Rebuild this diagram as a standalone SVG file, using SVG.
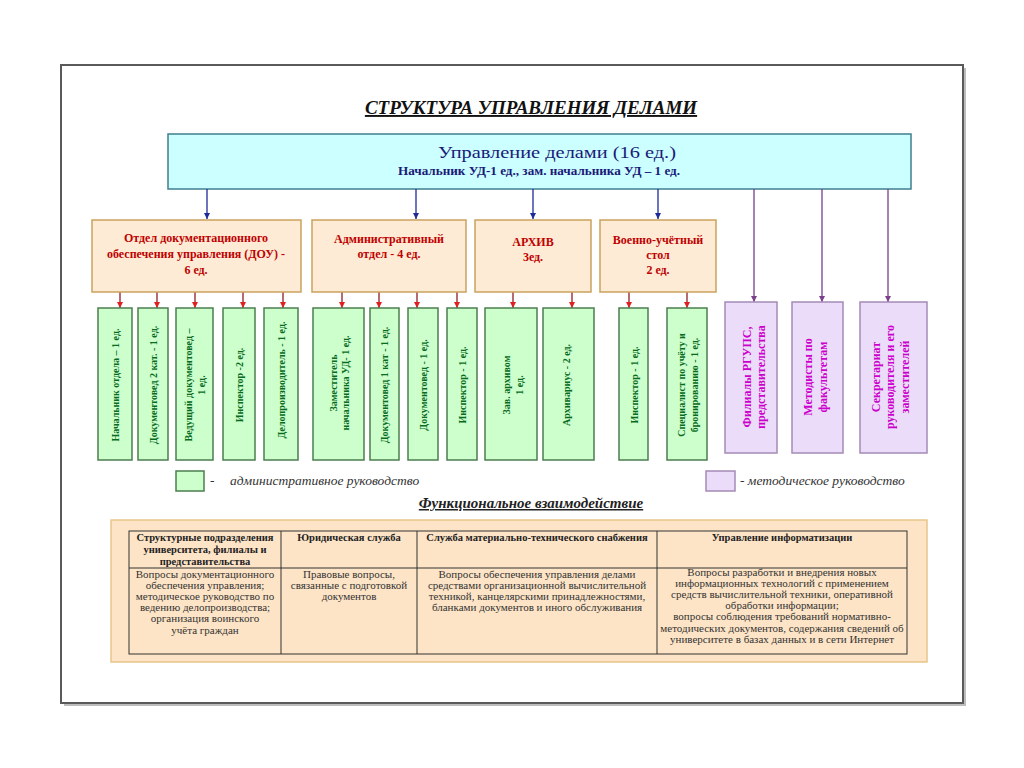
<svg xmlns="http://www.w3.org/2000/svg" width="1024" height="768" viewBox="0 0 1024 768">
<defs>
<style>
text{font-family:"Liberation Serif","Times New Roman",serif}
.frame{fill:#fff;stroke:#5a5a5a;stroke-width:2}
.top{fill:#ccffff;stroke:#3f7f8f;stroke-width:1.5}
.org{fill:#fdebd5;stroke:#c9a25c;stroke-width:1.5}
.grn{fill:#ccffcc;stroke:#4c7d50;stroke-width:1.5}
.pur{fill:#ebdcf9;stroke:#a58bb5;stroke-width:1.5}
.ot{fill:#c00000;font-weight:bold;font-size:12px;text-anchor:middle}
.gt{fill:#086a1c;font-weight:bold;font-size:10px;text-anchor:middle;dominant-baseline:central}
.pt{fill:#cc00cc;font-weight:bold;font-size:12px;text-anchor:middle;dominant-baseline:central}
.blue{stroke:#1c2a9a;stroke-width:1.3;fill:none}
.red{stroke:#8e1c24;stroke-width:1.3;fill:none}
.purl{stroke:#7b3f8c;stroke-width:1.3;fill:none}
.leg{font-style:italic;font-size:13.5px;fill:#333}
.th{font-weight:bold;font-size:10.5px;text-anchor:middle;fill:#222}
.tb{font-size:11px;text-anchor:middle;fill:#333}
.tl{stroke:#333;stroke-width:1;fill:none}
</style>
<marker id="ab" viewBox="0 0 10 10" refX="10" refY="5" markerWidth="5" markerHeight="5" orient="auto"><path d="M0,0 L10,5 L0,10 z" fill="#1c2a9a"/></marker>
<marker id="ar" viewBox="0 0 10 10" refX="10" refY="5" markerWidth="5" markerHeight="5" orient="auto"><path d="M0,0 L10,5 L0,10 z" fill="#e02020"/></marker>
<marker id="ap" viewBox="0 0 10 10" refX="10" refY="5" markerWidth="5" markerHeight="5" orient="auto"><path d="M0,0 L10,5 L0,10 z" fill="#7b3f8c"/></marker>
</defs>
<rect width="1024" height="768" fill="#ffffff"/>
<rect x="64" y="68" width="902" height="638" fill="#bdbdbd"/>
<rect class="frame" x="61" y="65" width="902" height="638"/>

<g id="title">
<text x="531" y="114" text-anchor="middle" font-size="19" font-weight="bold" font-style="italic" fill="#111" text-decoration="underline">СТРУКТУРА УПРАВЛЕНИЯ ДЕЛАМИ</text>
</g>

<g id="top">
<rect class="top" x="168" y="134" width="743" height="55"/>
<text x="438" y="158" font-size="17" fill="#1a1a78" textLength="238" lengthAdjust="spacingAndGlyphs">Управление делами (16 ед.)</text>
<text x="398" y="175" font-size="11.5" font-weight="bold" fill="#1a1a78" textLength="282" lengthAdjust="spacingAndGlyphs">Начальник УД-1 ед., зам. начальника УД – 1 ед.</text>
</g>

<g id="connectors">
<line class="blue" x1="207" y1="189" x2="207" y2="219" marker-end="url(#ab)"/>
<line class="blue" x1="416" y1="189" x2="416" y2="219" marker-end="url(#ab)"/>
<line class="blue" x1="533" y1="189" x2="533" y2="219" marker-end="url(#ab)"/>
<line class="blue" x1="658" y1="189" x2="658" y2="219" marker-end="url(#ab)"/>
<line class="purl" x1="754" y1="189" x2="754" y2="302" marker-end="url(#ap)"/>
<line class="purl" x1="822" y1="189" x2="822" y2="302" marker-end="url(#ap)"/>
<line class="purl" x1="888" y1="189" x2="888" y2="302" marker-end="url(#ap)"/>
<line class="red" x1="120" y1="292" x2="120" y2="308" marker-end="url(#ar)"/>
<line class="red" x1="157" y1="292" x2="157" y2="308" marker-end="url(#ar)"/>
<line class="red" x1="195" y1="292" x2="195" y2="308" marker-end="url(#ar)"/>
<line class="red" x1="243" y1="292" x2="243" y2="308" marker-end="url(#ar)"/>
<line class="red" x1="283" y1="292" x2="283" y2="308" marker-end="url(#ar)"/>
<line class="red" x1="342" y1="292" x2="342" y2="308" marker-end="url(#ar)"/>
<line class="red" x1="379" y1="292" x2="379" y2="308" marker-end="url(#ar)"/>
<line class="red" x1="417" y1="292" x2="417" y2="308" marker-end="url(#ar)"/>
<line class="red" x1="457" y1="292" x2="457" y2="308" marker-end="url(#ar)"/>
<line class="red" x1="513" y1="292" x2="513" y2="308" marker-end="url(#ar)"/>
<line class="red" x1="572" y1="292" x2="572" y2="308" marker-end="url(#ar)"/>
<line class="red" x1="629" y1="292" x2="629" y2="308" marker-end="url(#ar)"/>
<line class="red" x1="687" y1="292" x2="687" y2="308" marker-end="url(#ar)"/>
</g>

<g id="dou">
<rect class="org" x="92" y="220" width="209" height="72"/>
<text class="ot" x="196" y="242">Отдел документационного</text>
<text class="ot" x="196" y="258">обеспечения управления (ДОУ) -</text>
<text class="ot" x="196" y="274">6 ед.</text>
</g>
<g id="adm">
<rect class="org" x="312" y="220" width="154" height="72"/>
<text class="ot" x="389" y="243">Административный</text>
<text class="ot" x="389" y="258">отдел - 4 ед.</text>
</g>
<g id="arch">
<rect class="org" x="475" y="220" width="116" height="72"/>
<text class="ot" x="533" y="246">АРХИВ</text>
<text class="ot" x="533" y="261">3ед.</text>
</g>
<g id="voen">
<rect class="org" x="600" y="220" width="116" height="72"/>
<text class="ot" x="658" y="244">Военно-учётный</text>
<text class="ot" x="658" y="259">стол</text>
<text class="ot" x="658" y="274">2 ед.</text>
</g>

<g id="g1"><rect class="grn" x="98" y="308" width="34" height="152"/>
<text class="gt" transform="translate(115,385) rotate(-90)">Начальник отдела – 1 ед.</text></g>
<g id="g2"><rect class="grn" x="138" y="308" width="30" height="152"/>
<text class="gt" transform="translate(153,385) rotate(-90)">Документовед 2 кат. - 1 ед.</text></g>
<g id="g3"><rect class="grn" x="176" y="308" width="37" height="152"/>
<text class="gt" transform="translate(188,385) rotate(-90)">Ведущий документовед –</text>
<text class="gt" transform="translate(201,385) rotate(-90)">1 ед.</text></g>
<g id="g4"><rect class="grn" x="223" y="308" width="32" height="152"/>
<text class="gt" transform="translate(239,385) rotate(-90)">Инспектор  -2 ед.</text></g>
<g id="g5"><rect class="grn" x="264" y="308" width="34" height="152"/>
<text class="gt" transform="translate(281,380) rotate(-90)">Делопроизводитель - 1 ед.</text></g>
<g id="g6"><rect class="grn" x="313" y="308" width="51" height="152"/>
<text class="gt" transform="translate(333,383) rotate(-90)">Заместитель</text>
<text class="gt" transform="translate(345,383) rotate(-90)">начальника УД- 1 ед.</text></g>
<g id="g7"><rect class="grn" x="370" y="308" width="29" height="152"/>
<text class="gt" transform="translate(384,385) rotate(-90)">Документовед 1 кат - 1 ед.</text></g>
<g id="g8"><rect class="grn" x="408" y="308" width="30" height="152"/>
<text class="gt" transform="translate(423,385) rotate(-90)">Документовед  - 1 ед.</text></g>
<g id="g9"><rect class="grn" x="447" y="308" width="30" height="152"/>
<text class="gt" transform="translate(462,385) rotate(-90)">Инспектор - 1 ед.</text></g>
<g id="g10"><rect class="grn" x="485" y="308" width="52" height="152"/>
<text class="gt" transform="translate(506,385) rotate(-90)">Зав. архивом</text>
<text class="gt" transform="translate(519,385) rotate(-90)">1 ед.</text></g>
<g id="g11"><rect class="grn" x="543" y="308" width="51" height="152"/>
<text class="gt" transform="translate(566,385) rotate(-90)">Архивариус - 2 ед.</text></g>
<g id="g12"><rect class="grn" x="619" y="308" width="29" height="152"/>
<text class="gt" transform="translate(634,385) rotate(-90)">Инспектор - 1 ед.</text></g>
<g id="g13"><rect class="grn" x="667" y="308" width="40" height="152"/>
<text class="gt" transform="translate(681,385) rotate(-90)">Специалист по учёту и</text>
<text class="gt" transform="translate(694,385) rotate(-90)">бронированию - 1 ед.</text></g>

<g id="p1"><rect class="pur" x="725" y="302" width="52" height="151"/>
<text class="pt" transform="translate(747,377) rotate(-90)">Филиалы РГУПС,</text>
<text class="pt" transform="translate(761,377) rotate(-90)">представительства</text></g>
<g id="p2"><rect class="pur" x="792" y="302" width="51" height="151"/>
<text class="pt" transform="translate(808,377) rotate(-90)">Методисты по</text>
<text class="pt" transform="translate(823,377) rotate(-90)">факультетам</text></g>
<g id="p3"><rect class="pur" x="860" y="302" width="67" height="151"/>
<text class="pt" transform="translate(876,377) rotate(-90)">Секретариат</text>
<text class="pt" transform="translate(890,377) rotate(-90)">руководителя и его</text>
<text class="pt" transform="translate(905,377) rotate(-90)">заместителей</text></g>

<g id="legend">
<rect class="grn" x="176" y="471" width="28" height="20"/>
<text class="leg" x="210" y="485">-</text>
<text class="leg" x="230" y="485">административное  руководство</text>
<rect class="pur" x="706" y="471" width="29" height="20"/>
<text class="leg" x="740" y="485">- методическое руководство</text>
<text x="531" y="508" text-anchor="middle" font-size="15" font-weight="bold" font-style="italic" fill="#222" text-decoration="underline">Функциональное взаимодействие</text>
</g>

<g id="table">
<rect x="111" y="520" width="816" height="142" fill="#fde4c6" stroke="#e6c68a" stroke-width="1.5"/>
<rect class="tl" x="129" y="531" width="778" height="123"/>
<line class="tl" x1="129" y1="568" x2="907" y2="568"/>
<line class="tl" x1="281" y1="531" x2="281" y2="654"/>
<line class="tl" x1="417" y1="531" x2="417" y2="654"/>
<line class="tl" x1="657" y1="531" x2="657" y2="654"/>
<text class="th" x="205" y="541">Структурные подразделения</text>
<text class="th" x="205" y="553">университета, филиалы и</text>
<text class="th" x="205" y="565">представительства</text>
<text class="th" x="349" y="541">Юридическая служба</text>
<text class="th" x="537" y="541">Служба материально-технического снабжения</text>
<text class="th" x="782" y="541">Управление информатизации</text>
<text class="tb" x="205" y="578">Вопросы документационного</text>
<text class="tb" x="205" y="589">обеспечения управления;</text>
<text class="tb" x="205" y="600">методическое руководство по</text>
<text class="tb" x="205" y="611">ведению делопроизводства;</text>
<text class="tb" x="205" y="622">организация воинского</text>
<text class="tb" x="205" y="634">учёта граждан</text>
<text class="tb" x="349" y="578">Правовые вопросы,</text>
<text class="tb" x="349" y="589">связанные с подготовкой</text>
<text class="tb" x="349" y="600">документов</text>
<text class="tb" x="537" y="578">Вопросы обеспечения управления делами</text>
<text class="tb" x="537" y="589">средствами организационной вычислительной</text>
<text class="tb" x="537" y="600">техникой, канцелярскими принадлежностями,</text>
<text class="tb" x="537" y="611">бланками документов и иного обслуживания</text>
<text class="tb" x="782" y="576">Вопросы разработки и внедрения новых</text>
<text class="tb" x="782" y="587">информационных технологий с применением</text>
<text class="tb" x="782" y="598">средств вычислительной техники, оперативной</text>
<text class="tb" x="782" y="609">обработки информации;</text>
<text class="tb" x="782" y="620">вопросы соблюдения требований нормативно-</text>
<text class="tb" x="782" y="632">методических документов, содержания сведений об</text>
<text class="tb" x="782" y="643">университете в базах данных и в сети Интернет</text>
</g>
</svg>
